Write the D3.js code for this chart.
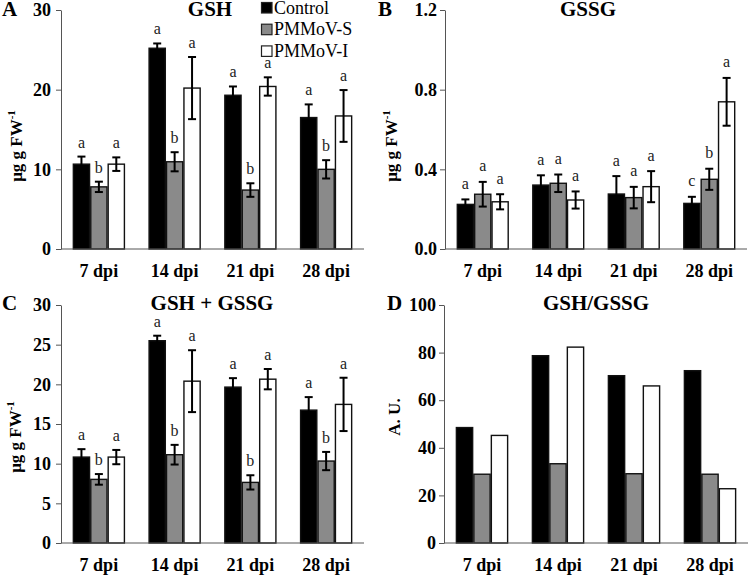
<!DOCTYPE html>
<html><head><meta charset="utf-8">
<script src="https://cdn.jsdelivr.net/npm/d3@7"></script>
<style>
body{margin:0;background:#fff;}
svg{display:block;font-family:"Liberation Serif","Times New Roman",serif;}
</style></head>
<body><svg id="c" width="750" height="576"></svg>
<script>
const categories = ["7 dpi", "14 dpi", "21 dpi", "28 dpi"];
const seriesNames = ["Control", "PMMoV-S", "PMMoV-I"];
const seriesFill = ["#000000", "#8a8a8a", "#ffffff"];

// A: GSH
const gshControl = [10.65, 25.2, 19.3, 16.5];
const gshS = [7.8, 10.95, 7.4, 10.0];
const gshI = [10.65, 20.2, 20.4, 16.7];
const gshControlErr = [0.95, 0.6, 1.1, 1.65];
const gshSErr = [0.65, 1.2, 0.85, 1.15];
const gshIErr = [0.85, 3.9, 1.15, 3.25];
const gshLetters = [["a","b","a"],["a","b","a"],["a","b","a"],["a","b","a"]];
const gshTicks = [0, 10, 20, 30];

// B: GSSG
const gssgControl = [0.224, 0.321, 0.276, 0.229];
const gssgS = [0.275, 0.33, 0.258, 0.35];
const gssgI = [0.237, 0.246, 0.313, 0.739];
const gssgControlErr = [0.025, 0.049, 0.09, 0.033];
const gssgSErr = [0.062, 0.044, 0.054, 0.053];
const gssgIErr = [0.038, 0.043, 0.078, 0.12];
const gssgLetters = [["a","a","a"],["a","a","a"],["a","a","a"],["c","b","a"]];
const gssgTicks = [0, 0.4, 0.8, 1.2];

// C: GSH + GSSG
const totControl = [10.83, 25.5, 19.65, 16.75];
const totS = [8.02, 11.13, 7.64, 10.33];
const totI = [10.83, 20.4, 20.65, 17.47];
const totControlErr = [1.0, 0.63, 1.13, 1.64];
const totSErr = [0.67, 1.24, 0.9, 1.15];
const totIErr = [0.9, 3.9, 1.28, 3.36];
const totLetters = [["a","b","a"],["a","b","a"],["a","b","a"],["a","b","a"]];
const totTicks = [0, 5, 10, 15, 20, 25, 30];

// D: GSH/GSSG
const ratioControl = [48.5, 78.7, 70.3, 72.4];
const ratioS = [28.9, 33.3, 29.1, 28.9];
const ratioI = [45.2, 82.3, 66.0, 22.8];
const ratioTicks = [0, 20, 40, 60, 80, 100];

const svg = d3.select("#c");

function panel(o) {
  const g = svg.append("g");
  const x0 = d3.scaleBand().domain(categories).range([o.ax, o.axEnd]).paddingInner(0.31).paddingOuter(0.155);
  const x1 = d3.scaleBand().domain(seriesNames).range([0, x0.bandwidth()]);
  const y = d3.scaleLinear().domain([0, o.max]).range([o.y0, o.yTop]);

  // y axis
  const ya = g.append("g").attr("transform", `translate(${o.ax},0)`)
    .call(d3.axisLeft(y).tickValues(o.ticks).tickFormat(o.fmt).tickSize(5).tickPadding(o.pad).tickSizeOuter(0));
  ya.attr("font-family", null);
  ya.select(".domain").attr("stroke", "#555");
  ya.selectAll(".tick line").attr("stroke", "#555");
  ya.selectAll("text").attr("font-family", "Liberation Serif").attr("font-weight", "bold").attr("font-size", 18).attr("fill", "#000");

  // bars
  const rows = categories.map((c, i) => ({c, i}));
  const grp = g.selectAll(".grp").data(rows).join("g").attr("transform", d => `translate(${x0(d.c)},0)`);
  grp.selectAll("rect").data(d => o.vals.map((arr, k) => ({k, v: arr[d.i]})))
    .join("rect")
    .attr("x", d => x1(seriesNames[d.k]) + 0.6)
    .attr("width", x1.bandwidth() - 1.2)
    .attr("y", d => y(d.v))
    .attr("height", d => y(0) - y(d.v))
    .attr("fill", d => seriesFill[d.k])
    .attr("stroke", "#111").attr("stroke-width", 1.4);

  if (o.errs) {
    grp.each(function(d) {
      const gg = d3.select(this);
      o.vals.forEach((arr, k) => {
        const v = arr[d.i], e = o.errs[k][d.i];
        const cx = x1(seriesNames[k]) + x1.bandwidth() / 2;
        const col = "#000";
        gg.append("line").attr("x1", cx).attr("x2", cx).attr("y1", y(v + e)).attr("y2", y(v - e)).attr("stroke", col).attr("stroke-width", 2);
        gg.append("line").attr("x1", cx - 4).attr("x2", cx + 4).attr("y1", y(v + e)).attr("y2", y(v + e)).attr("stroke", col).attr("stroke-width", 2);
        gg.append("line").attr("x1", cx - 4).attr("x2", cx + 4).attr("y1", y(v - e)).attr("y2", y(v - e)).attr("stroke", col).attr("stroke-width", 2);
        gg.append("text").attr("x", cx).attr("y", y(v + e) - o.lgap)
          .attr("text-anchor", "middle").attr("font-size", 16).attr("fill", "#222")
          .text(o.letters[d.i][k]);
      });
    });
  }

  // x axis line
  g.append("line").attr("x1", o.ax).attr("x2", o.axEnd).attr("y1", o.y0).attr("y2", o.y0).attr("stroke", "#555").attr("stroke-width", 1);
  // x labels
  g.selectAll(".xl").data(categories).join("text")
    .attr("x", d => x0(d) + x0.bandwidth() / 2).attr("y", o.y0 + 28)
    .attr("text-anchor", "middle").attr("font-weight", "bold").attr("font-size", 18)
    .text(d => d);

  // title
  g.append("text").attr("x", o.tx).attr("y", o.ty).attr("text-anchor", "middle")
    .attr("font-weight", "bold").attr("font-size", 21).text(o.title);
  // panel letter
  g.append("text").attr("x", o.lx).attr("y", o.ty).attr("font-weight", "bold").attr("font-size", 21).text(o.letter);

  // y label
  const yl = g.append("text").attr("transform", `translate(${o.ylx},${o.yly}) rotate(-90)`)
    .attr("text-anchor", "middle").attr("font-weight", "bold").attr("font-size", 17);
  if (o.ylabel === "unit") {
    yl.append("tspan").text("μg g FW");
    yl.append("tspan").attr("font-size", 11).attr("dy", -7).text("-1");
  } else {
    yl.text(o.ylabel);
  }
}

panel({ax: 61, axEnd: 364, y0: 249, yTop: 10, max: 30, ticks: gshTicks, fmt: d3.format("d"), pad: 5,
  vals: [gshControl, gshS, gshI], errs: [gshControlErr, gshSErr, gshIErr], letters: gshLetters, lgap: 9,
  title: "GSH", tx: 210, ty: 16, letter: "A", lx: 2, ylabel: "unit", ylx: 22, yly: 146});

panel({ax: 445, axEnd: 747, y0: 249, yTop: 10, max: 1.2, ticks: gssgTicks, fmt: d3.format(".1f"), pad: 3,
  vals: [gssgControl, gssgS, gssgI], errs: [gssgControlErr, gssgSErr, gssgIErr], letters: gssgLetters, lgap: 10.5,
  title: "GSSG", tx: 588, ty: 16, letter: "B", lx: 378, ylabel: "unit", ylx: 397, yly: 146});

panel({ax: 61, axEnd: 364, y0: 543, yTop: 305, max: 30, ticks: totTicks, fmt: d3.format("d"), pad: 5,
  vals: [totControl, totS, totI], errs: [totControlErr, totSErr, totIErr], letters: totLetters, lgap: 9,
  title: "GSH + GSSG", tx: 212, ty: 310, letter: "C", lx: 2, ylabel: "unit", ylx: 21, yly: 437});

panel({ax: 444, axEnd: 748, y0: 543, yTop: 305, max: 100, ticks: ratioTicks, fmt: d3.format("d"), pad: 3,
  vals: [ratioControl, ratioS, ratioI], errs: null, letters: null, lgap: 0,
  title: "GSH/GSSG", tx: 596, ty: 310, letter: "D", lx: 387, ylabel: "A. U.", ylx: 400, yly: 417});

// legend
const leg = svg.append("g");
seriesNames.forEach((n, k) => {
  const by = 13.5 + k * 21.7;
  leg.append("rect").attr("x", 261.5).attr("y", by - 11).attr("width", 10.5).attr("height", 10.5)
    .attr("fill", seriesFill[k]).attr("stroke", "#222").attr("stroke-width", 1.2);
  leg.append("text").attr("x", 274).attr("y", by).attr("font-size", 18).text(n);
});
</script></body></html>
